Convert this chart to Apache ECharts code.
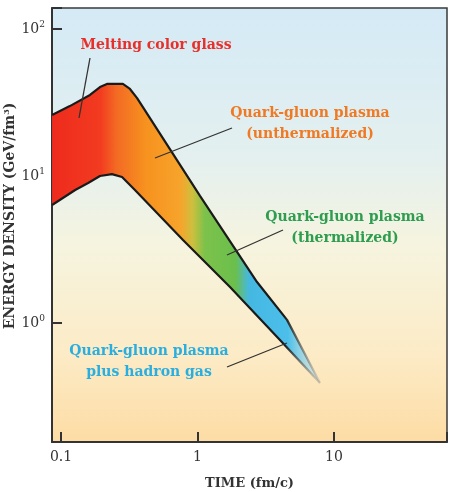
<!DOCTYPE html>
<html>
<head>
<meta charset="utf-8">
<script src="https://cdn.jsdelivr.net/npm/echarts@6/dist/echarts.min.js"></script>
<style>
html, body { margin: 0; padding: 0; background: #fff; }
#chart { width: 450px; height: 492px; }
</style>
</head>
<body>
<div id="chart"></div>
<script>
// edges of the energy-density band (time in fm/c, density in GeV/fm^3)
var upperTime = [0.086, 0.116, 0.163, 0.193, 0.217, 0.284, 0.320, 0.361, 1.04, 2.73, 4.53, 7.9]
var upperDensity = [26.0, 29.9, 35.6, 40.3, 42.3, 42.3, 39.1, 33.9, 7.35, 1.90, 1.05, 0.39]
var lowerTime = [0.086, 0.127, 0.158, 0.193, 0.236, 0.280, 0.348, 0.783, 1.73, 4.02, 7.9]
var lowerDensity = [6.35, 8.03, 8.96, 10.0, 10.3, 9.85, 8.03, 3.67, 1.76, 0.766, 0.39]

var timeRange = [0.0859, 67.3]
var densityRange = [0.155, 139]

var serif = '"DejaVu Serif", "Liberation Serif", serif'
var chart = echarts.init(document.getElementById('chart'))

function isPow10(v) {
    var e = Math.log10(v)
    return Math.abs(e - Math.round(e)) < 1e-6
}

// colour runs left to right through the phases
var bandStops = [
    { offset: 0, color: '#ee2b1d' },
    { offset: 0.18, color: '#f23b20' },
    { offset: 0.24, color: '#f36a23' },
    { offset: 0.35, color: '#f7921f' },
    { offset: 0.48, color: '#f6a42b' },
    { offset: 0.525, color: '#cdbf3f' },
    { offset: 0.57, color: '#7cc24b' },
    { offset: 0.685, color: '#6bbf4d' },
    { offset: 0.735, color: '#45b8e2' },
    { offset: 0.88, color: '#4bbfea' },
    { offset: 1, color: 'rgba(215,230,228,0.6)' }
]

var outlineColor = {
    type: 'linear', x: 0, y: 0, x2: 1, y2: 0,
    colorStops: [
        { offset: 0, color: '#1a1a1a' },
        { offset: 0.86, color: '#1a1a1a' },
        { offset: 1, color: 'rgba(120,120,120,0.15)' }
    ]
}

function renderBand(params, api) {
    var pts = []
    for (var i = 0; i < upperTime.length; i++) {
        pts.push(api.coord([upperTime[i], upperDensity[i]]))
    }
    for (var j = lowerTime.length - 1; j >= 0; j--) {
        pts.push(api.coord([lowerTime[j], lowerDensity[j]]))
    }
    var x0 = api.coord([upperTime[0], upperDensity[0]])[0]
    var x1 = api.coord([upperTime[upperTime.length - 1], upperDensity[upperDensity.length - 1]])[0]
    return {
        type: 'polygon',
        shape: { points: pts },
        style: {
            fill: { type: 'linear', x: x0, y: 0, x2: x1, y2: 0, global: true, colorStops: bandStops }
        }
    }
}

function pairs(xs, ys) {
    return xs.map(function(x, i) { return [x, ys[i]] })
}

var labelFont = { fontFamily: serif, fontWeight: 'bold', fontSize: 14, textAlign: 'center', textVerticalAlign: 'middle' }

var notes = [
    { text: 'Melting color glass', color: '#e8302a', x: 156, y: 45 },
    { text: 'Quark-gluon plasma\n(unthermalized)', color: '#f07a24', x: 310, y: 124 },
    { text: 'Quark-gluon plasma\n(thermalized)', color: '#2f9d50', x: 345, y: 228 },
    { text: 'Quark-gluon plasma\nplus hadron gas', color: '#2aaee0', x: 149, y: 362 }
]
var leaders = [
    [90, 58, 79, 118],
    [232, 128, 155, 158],
    [283, 230, 227, 255],
    [227, 367, 287, 343]
]

var graphics = []
notes.forEach(function(n) {
    graphics.push({
        type: 'text', x: n.x, y: n.y, z: 10,
        style: Object.assign({ text: n.text, fill: n.color, lineHeight: 21 }, labelFont)
    })
})
leaders.forEach(function(l) {
    graphics.push({
        type: 'line', z: 10,
        shape: { x1: l[0], y1: l[1], x2: l[2], y2: l[3] },
        style: { stroke: '#333', lineWidth: 1.3 }
    })
})

chart.setOption({
    animation: false,
    grid: {
        left: 52, right: 3, top: 8, bottom: 50,
        outerBoundsMode: 'none',
        containLabel: false,
        show: true,
        borderColor: '#3a3a3a',
        borderWidth: 1.5,
        backgroundColor: {
            type: 'linear', x: 0, y: 0, x2: 0, y2: 1,
            colorStops: [
                { offset: 0, color: '#d4eaf6' },
                { offset: 0.35, color: '#e4f0ef' },
                { offset: 0.55, color: '#f6f4df' },
                { offset: 0.8, color: '#fcebc6' },
                { offset: 1, color: '#fddca4' }
            ]
        }
    },
    xAxis: {
        type: 'log', logBase: 10,
        min: timeRange[0], max: timeRange[1],
        name: 'TIME (fm/c)',
        nameLocation: 'middle',
        nameGap: 35,
        nameMoveOverlap: false,
        nameTextStyle: { fontFamily: serif, fontSize: 13, fontWeight: 'bold', color: '#333' },
        axisLine: { lineStyle: { color: '#333', width: 2 } },
        axisTick: { inside: true, length: 10, lineStyle: { color: '#333', width: 2 } },
        minorTick: { show: false },
        splitLine: { show: false },
        axisLabel: {
            margin: 8,
            fontFamily: serif, fontSize: 14, color: '#333',
            formatter: function(v) {
                if (!isPow10(v)) return ''
                var e = Math.round(Math.log10(v))
                return e < 0 ? Math.pow(10, e).toFixed(-e) : String(Math.pow(10, e))
            }
        }
    },
    yAxis: {
        type: 'log', logBase: 10,
        min: densityRange[0], max: densityRange[1],
        name: 'ENERGY DENSITY (GeV/fm{sup|3})',
        nameLocation: 'middle',
        nameRotate: 90,
        nameGap: 34,
        nameMoveOverlap: false,
        nameTextStyle: {
            fontFamily: serif, fontSize: 14, fontWeight: 'bold', color: '#333',
            padding: [0, 0, 0, 18],
            rich: { sup: { fontFamily: serif, fontSize: 8, fontWeight: 'bold', color: '#333', padding: [0, 0, 7, 0] } }
        },
        axisLine: { lineStyle: { color: '#333', width: 2 } },
        axisTick: { inside: true, length: 10, lineStyle: { color: '#333', width: 2 } },
        splitLine: { show: false },
        axisLabel: {
            margin: 7,
            fontFamily: serif, fontSize: 14, color: '#333',
            formatter: function(v) {
                if (!isPow10(v)) return ''
                return '{b|10}{sup|' + Math.round(Math.log10(v)) + '}'
            },
            rich: {
                b: { fontFamily: serif, fontSize: 14, color: '#333' },
                sup: { fontFamily: serif, fontSize: 9, color: '#333', padding: [0, 0, 8, 0] }
            }
        }
    },
    series: [
        {
            type: 'custom',
            renderItem: renderBand,
            data: [[upperTime[0], upperDensity[0]]],
            encode: { x: 0, y: 1 },
            silent: true,
            z: 2
        },
        {
            type: 'line',
            data: pairs(upperTime, upperDensity),
            showSymbol: false,
            lineStyle: { color: outlineColor, width: 2.2 },
            silent: true,
            z: 3
        },
        {
            type: 'line',
            data: pairs(lowerTime, lowerDensity),
            showSymbol: false,
            lineStyle: { color: outlineColor, width: 2.2 },
            silent: true,
            z: 3
        }
    ],
    graphic: graphics
})
</script>
</body>
</html>
